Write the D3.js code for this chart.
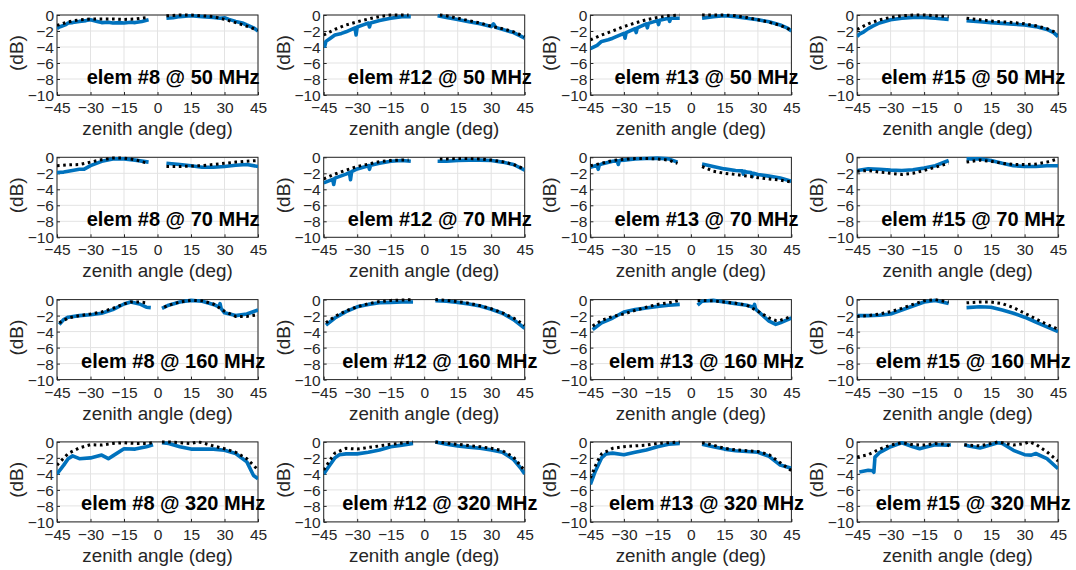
<!DOCTYPE html>
<html><head><meta charset="utf-8">
<script src="https://cdn.jsdelivr.net/npm/d3@7"></script>
<style>
html,body{margin:0;padding:0;background:#fff;}
svg{display:block;font-family:"Liberation Sans",Arial,Helvetica,sans-serif;}
</style></head><body>
<svg id="c" width="1076" height="570"></svg>
<script>
// ---- labels ----
const elements = ["#8", "#12", "#13", "#15"];
const freqs = [50, 70, 160, 320];
const xTicks = [-45, -30, -15, 0, 15, 30, 45];
const yTicks = [0, -2, -4, -6, -8, -10];
const xLabel = "zenith angle (deg)";
const yLabel = "(dB)";

// ---- data: [angle (deg), normalized gain (dB)], null = gap ----
// row 1: 50 MHz
const m8_50 = [[-45,-1.7],[-44,-1.5],[-43,-1.4],[-41,-1.2],[-40,-1.0],[-38,-0.95],[-35,-0.8],[-32,-0.7],[-30,-0.6],[-27,-0.8],[-25,-0.95],[-22,-0.9],[-20,-1.0],[-17,-0.95],[-15,-1.0],[-12,-0.9],[-10,-0.95],[-7,-0.8],[-4,-0.6],null,[4,-0.4],[7,-0.35],[10,-0.2],[15,-0.1],[20,-0.2],[25,-0.3],[28,-0.4],[30,-0.35],[32,-0.55],[35,-0.8],[38,-1.0],[40,-1.25],[43,-1.6],[45,-2.0]];
const s8_50 = [[-45,-1.3],[-40,-0.85],[-35,-0.6],[-30,-0.5],[-25,-0.5],[-20,-0.5],[-15,-0.55],[-10,-0.5],[-4,-0.3],null,[4,-0.1],[10,0],[15,0],[20,-0.1],[25,-0.2],[30,-0.55],[35,-0.95],[40,-1.4],[45,-1.9]];
const m12_50 = [[-45,-3.3],[-44.5,-3.9],[-44,-3.3],[-42,-2.9],[-40,-2.5],[-37,-2.3],[-35,-2.1],[-31,-1.6],[-30.5,-2.5],[-30,-1.5],[-27,-1.2],[-25,-1.0],[-24.5,-1.5],[-24,-1.0],[-20,-0.7],[-15,-0.4],[-10,-0.2],[-6,-0.2],null,[6,-0.1],[10,-0.3],[15,-0.55],[20,-0.85],[25,-1.1],[30,-1.45],[31,-1.1],[32,-1.55],[35,-1.8],[40,-2.2],[43,-2.6],[45,-2.9]];
const s12_50 = [[-45,-2.5],[-40,-1.8],[-35,-1.25],[-30,-0.85],[-25,-0.5],[-20,-0.2],[-15,0],[-10,0],[-7,0],null,[7,0],[10,-0.1],[15,-0.4],[20,-0.7],[25,-1.0],[30,-1.4],[35,-1.7],[40,-2.1],[45,-2.7]];
const m13_50 = [[-45,-4.2],[-42,-3.8],[-40,-3.3],[-37,-3.1],[-35,-2.9],[-30,-2.3],[-29.5,-2.9],[-29,-2.2],[-25,-1.7],[-24.5,-2.2],[-24,-1.6],[-20,-1.1],[-19.5,-1.6],[-19,-1.05],[-15,-0.7],[-14.5,-1.2],[-14,-0.65],[-10,-0.4],[-9.5,-0.8],[-9,-0.4],[-5,-0.4],null,[5,-0.4],[10,-0.2],[15,-0.1],[20,-0.2],[25,-0.4],[30,-0.6],[35,-0.85],[40,-1.25],[43,-1.6],[45,-2.0]];
const s13_50 = [[-45,-3.1],[-40,-2.5],[-35,-2.0],[-30,-1.45],[-25,-1.0],[-20,-0.6],[-15,-0.3],[-10,-0.1],[-5,0],null,[5,0],[10,0],[15,0],[20,-0.1],[25,-0.3],[30,-0.6],[35,-0.9],[40,-1.3],[45,-1.9]];
const m15_50 = [[-45,-2.7],[-44,-2.4],[-42,-2.1],[-40,-1.7],[-38,-1.4],[-35,-1.0],[-30,-0.6],[-25,-0.4],[-20,-0.3],[-15,-0.3],[-10,-0.4],[-4,-0.55],null,[4,-0.7],[10,-0.85],[15,-0.95],[20,-1.05],[25,-1.15],[30,-1.25],[35,-1.45],[40,-1.8],[43,-2.2],[45,-2.7]];
const s15_50 = [[-45,-1.8],[-40,-1.1],[-35,-0.6],[-30,-0.3],[-25,-0.1],[-20,0],[-15,0],[-10,-0.1],[-4,-0.2],null,[4,-0.4],[10,-0.6],[15,-0.75],[20,-0.85],[25,-0.95],[30,-1.1],[35,-1.35],[40,-1.7],[45,-2.3]];
// row 2: 70 MHz
const m8_70 = [[-45,-1.9],[-42,-1.85],[-40,-1.75],[-35,-1.5],[-33,-1.5],[-30,-1.05],[-25,-0.5],[-20,-0.2],[-15,-0.2],[-10,-0.35],[-4,-0.6],null,[4,-0.75],[10,-0.9],[15,-1.05],[20,-1.25],[25,-1.25],[30,-1.15],[35,-1.0],[40,-0.9],[45,-1.15]];
const s8_70 = [[-45,-1.05],[-40,-0.95],[-35,-0.9],[-30,-0.6],[-25,-0.3],[-20,-0.1],[-15,-0.1],[-10,-0.3],[-5,-0.7],null,[4,-1.15],[10,-1.15],[15,-1.1],[20,-1.05],[25,-0.9],[30,-0.75],[35,-0.6],[40,-0.5],[45,-0.4]];
const m12_70 = [[-45,-3.2],[-41,-2.75],[-40.5,-3.4],[-40,-2.6],[-35,-2.1],[-33.5,-1.9],[-33,-2.8],[-32.5,-1.8],[-30,-1.45],[-25,-1.05],[-24.5,-1.5],[-24,-1.0],[-20,-0.75],[-15,-0.5],[-10,-0.4],[-6,-0.5],null,[6,-0.5],[10,-0.5],[15,-0.4],[20,-0.35],[25,-0.35],[30,-0.4],[35,-0.6],[40,-0.9],[45,-1.6]];
const s12_70 = [[-45,-2.7],[-40,-2.1],[-35,-1.6],[-30,-1.15],[-25,-0.85],[-20,-0.55],[-15,-0.4],[-10,-0.35],[-7,-0.35],null,[7,-0.2],[10,-0.2],[15,-0.15],[20,-0.15],[25,-0.2],[30,-0.35],[35,-0.55],[40,-0.9],[45,-1.45]];
const m13_70 = [[-45,-1.25],[-42,-1.0],[-41.5,-1.5],[-41,-0.95],[-40,-0.85],[-35,-0.5],[-33,-0.45],[-32.5,-0.9],[-32,-0.4],[-30,-0.35],[-25,-0.2],[-20,-0.15],[-15,-0.1],[-10,-0.2],[-6,-0.6],null,[5,-0.85],[10,-1.15],[15,-1.45],[20,-1.65],[23,-1.7],[23.5,-2.1],[24,-1.75],[25,-1.85],[27,-1.9],[27.5,-2.4],[28,-2.0],[30,-2.15],[35,-2.35],[40,-2.6],[45,-3.0]];
const s13_70 = [[-45,-1.05],[-40,-0.75],[-35,-0.4],[-30,-0.25],[-25,-0.15],[-20,-0.15],[-15,-0.2],[-10,-0.35],[-6,-0.75],null,[5,-1.15],[10,-1.75],[15,-2.0],[20,-2.15],[25,-2.35],[30,-2.55],[35,-2.7],[40,-2.85],[45,-3.1]];
const m15_70 = [[-45,-1.65],[-40,-1.45],[-35,-1.5],[-30,-1.6],[-25,-1.65],[-20,-1.55],[-15,-1.35],[-10,-1.05],[-4,-0.4],null,[4,-0.2],[10,-0.2],[15,-0.4],[20,-0.75],[25,-1.05],[30,-1.15],[35,-1.15],[40,-1.05],[45,-1.05]];
const s15_70 = [[-45,-1.75],[-40,-1.65],[-35,-1.85],[-30,-2.0],[-25,-2.15],[-20,-2.0],[-15,-1.65],[-10,-1.25],[-4,-0.75],null,[4,-0.6],[10,-0.35],[15,-0.5],[20,-0.75],[25,-0.9],[30,-0.9],[35,-0.85],[40,-0.6],[45,-0.2]];
// row 3: 160 MHz
const m8_160 = [[-44,-3.1],[-42,-2.5],[-40,-2.2],[-35,-2.0],[-30,-1.9],[-25,-1.7],[-20,-1.25],[-15,-0.55],[-12,-0.3],[-8,-0.55],[-5,-0.95],[-3,-1.0],null,[2,-1.1],[5,-0.7],[10,-0.3],[15,-0.1],[20,-0.2],[25,-0.6],[27.5,-0.9],[28,-0.5],[28.5,-1.1],[30,-1.65],[35,-2.0],[40,-1.8],[45,-1.3]];
const s8_160 = [[-44,-2.9],[-40,-2.3],[-35,-2.0],[-30,-1.8],[-25,-1.55],[-20,-1.1],[-15,-0.55],[-12,-0.3],[-8,-0.3],[-5,-0.4],null,[3,-0.95],[5,-0.7],[10,-0.3],[15,-0.1],[20,-0.15],[25,-0.55],[30,-1.45],[35,-2.1],[40,-2.1],[45,-1.9]];
const m12_160 = [[-44,-3.2],[-40,-2.3],[-35,-1.5],[-30,-0.9],[-25,-0.6],[-20,-0.4],[-15,-0.35],[-10,-0.3],[-5,-0.3],null,[5,-0.15],[10,-0.2],[15,-0.35],[20,-0.55],[25,-0.8],[30,-1.2],[35,-1.7],[40,-2.5],[45,-3.6]];
const s12_160 = [[-44,-2.9],[-40,-2.1],[-35,-1.4],[-30,-0.9],[-25,-0.5],[-20,-0.25],[-15,-0.1],[-10,-0.05],[-5,0],null,[5,0],[10,-0.1],[15,-0.25],[20,-0.45],[25,-0.75],[30,-1.15],[35,-1.65],[40,-2.3],[45,-3.2]];
const m13_160 = [[-44,-3.75],[-40,-2.9],[-35,-2.3],[-30,-1.55],[-25,-1.25],[-20,-1.05],[-15,-0.85],[-10,-0.7],[-5,-0.6],null,[3,-0.7],[5,-0.2],[10,-0.1],[15,-0.3],[20,-0.5],[25,-0.7],[28,-0.95],[28.5,-0.6],[29,-1.2],[30,-1.45],[35,-2.7],[38,-3.1],[40,-2.9],[45,-2.3]];
const s13_160 = [[-44,-3.3],[-40,-2.6],[-35,-2.1],[-30,-1.8],[-25,-1.35],[-20,-0.95],[-15,-0.6],[-10,-0.4],[-5,-0.1],null,[3,-0.1],[5,-0.1],[10,-0.15],[15,-0.3],[20,-0.45],[25,-0.7],[30,-1.45],[35,-2.3],[38,-2.6],[40,-2.6],[45,-2.1]];
const m15_160 = [[-45,-2.0],[-40,-2.0],[-35,-1.95],[-30,-1.8],[-25,-1.3],[-20,-0.8],[-15,-0.3],[-10,-0.1],[-4,-0.5],null,[4,-1.0],[10,-0.9],[15,-0.95],[20,-1.3],[25,-1.7],[30,-2.2],[35,-2.8],[40,-3.4],[45,-4.0]];
const s15_160 = [[-45,-2.1],[-40,-2.0],[-35,-1.8],[-30,-1.5],[-25,-1.1],[-20,-0.6],[-15,-0.15],[-10,0],[-4,-0.3],null,[4,-0.4],[10,-0.3],[15,-0.3],[20,-0.5],[25,-1.0],[30,-1.7],[35,-2.4],[40,-3.1],[45,-3.7]];
// row 4: 320 MHz
const m8_320 = [[-45,-4.0],[-42,-2.9],[-40,-2.1],[-38,-1.75],[-35,-2.1],[-30,-2.0],[-25,-1.65],[-22,-2.1],[-20,-1.75],[-15,-0.85],[-10,-0.9],[-5,-0.6],[-2,-0.35],null,[2,-0.1],[5,-0.2],[10,-0.6],[15,-0.9],[20,-0.9],[25,-0.9],[30,-1.05],[35,-1.45],[40,-2.5],[43,-4.2],[45,-4.6]];
const s8_320 = [[-45,-2.9],[-40,-1.45],[-35,-0.75],[-30,-0.35],[-25,-0.4],[-20,-0.2],[-15,-0.1],[-10,-0.2],[-5,-0.2],[-2,-0.1],null,[2,0],[5,0],[10,-0.1],[15,-0.2],[18,0],[20,-0.1],[25,-0.5],[30,-0.85],[35,-1.3],[40,-2.1],[45,-3.5]];
const m12_320 = [[-45,-4.0],[-42,-2.8],[-40,-2.0],[-38,-1.6],[-35,-1.5],[-30,-1.5],[-25,-1.3],[-20,-1.0],[-15,-0.6],[-10,-0.4],[-5,-0.2],null,[5,0],[10,-0.3],[15,-0.5],[20,-0.65],[25,-0.8],[30,-1.0],[35,-1.3],[40,-2.2],[43,-3.2],[45,-4.0]];
const s12_320 = [[-45,-3.5],[-42,-2.2],[-40,-1.4],[-35,-0.8],[-30,-0.9],[-25,-0.7],[-20,-0.5],[-15,-0.3],[-10,-0.15],[-5,0],null,[5,0],[10,-0.15],[15,-0.3],[20,-0.45],[25,-0.6],[30,-0.8],[35,-1.1],[40,-1.9],[45,-3.6]];
const m13_320 = [[-45,-5.3],[-43,-3.8],[-40,-2.0],[-38,-1.5],[-35,-1.4],[-30,-1.6],[-25,-1.3],[-20,-1.0],[-15,-0.6],[-10,-0.3],[-5,-0.2],null,[5,-0.3],[10,-0.6],[15,-0.9],[20,-1.1],[25,-1.2],[30,-1.3],[35,-1.8],[40,-2.9],[45,-3.3]];
const s13_320 = [[-45,-4.5],[-42,-2.5],[-40,-1.5],[-35,-0.8],[-30,-0.6],[-25,-0.5],[-20,-0.4],[-15,-0.2],[-10,-0.1],[-5,0],null,[5,-0.1],[10,-0.4],[15,-0.8],[20,-1.0],[25,-1.1],[30,-1.2],[35,-1.6],[40,-2.6],[45,-3.6]];
const m15_320 = [[-44,-3.75],[-40,-3.55],[-38,-3.6],[-37.5,-3.8],[-37,-1.9],[-35,-1.35],[-30,-0.6],[-25,-0.1],[-20,-0.6],[-17,-0.85],[-15,-0.7],[-10,-0.35],[-5,-0.4],[-3,-0.35],null,[3,-0.35],[5,-0.5],[10,-0.75],[15,-0.35],[18,-0.1],[20,-0.2],[25,-1.05],[30,-1.6],[33,-1.65],[35,-1.45],[40,-2.1],[45,-3.35]];
const s15_320 = [[-45,-1.9],[-40,-1.6],[-35,-0.9],[-30,-0.4],[-25,-0.1],[-20,-0.35],[-15,-0.4],[-10,-0.2],[-5,-0.3],[-3,-0.6],null,[3,-0.35],[5,-0.4],[10,-0.5],[15,-0.2],[18,0],[20,-0.1],[25,-0.4],[30,-0.2],[32,0],[35,-0.3],[40,-1.25],[45,-2.4]];

const measured = [
  [m8_50, m12_50, m13_50, m15_50],
  [m8_70, m12_70, m13_70, m15_70],
  [m8_160, m12_160, m13_160, m15_160],
  [m8_320, m12_320, m13_320, m15_320]
];
const simulated = [
  [s8_50, s12_50, s13_50, s15_50],
  [s8_70, s12_70, s13_70, s15_70],
  [s8_160, s12_160, s13_160, s15_160],
  [s8_320, s12_320, s13_320, s15_320]
];

// ---- layout ----
const W = 201, H = 80;
const colX = c => 57 + c * 266.7;
const rowY = r => 15 + r * 142.3;
const axisColor = "#262626";
const gridColor = "#e3e3e3";
const blue = "#0072BD";

const svg = d3.select("#c");

for (let r = 0; r < 4; r++) {
  for (let c = 0; c < 4; c++) {
    const g = svg.append("g").attr("transform", `translate(${colX(c)},${rowY(r)})`);
    const x = d3.scaleLinear().domain([-45, 45]).range([0, W]);
    const y = d3.scaleLinear().domain([-10, 0]).range([H, 0]);
    const clipId = `clip${r}${c}`;
    g.append("clipPath").attr("id", clipId).append("rect").attr("x", 0).attr("y", -2).attr("width", W).attr("height", H + 2);

    // grid
    g.append("g").selectAll("line").data(xTicks).join("line")
      .attr("x1", d => x(d)).attr("x2", d => x(d)).attr("y1", 0).attr("y2", H)
      .attr("stroke", gridColor).attr("stroke-width", 1);
    g.append("g").selectAll("line").data(yTicks).join("line")
      .attr("y1", d => y(d)).attr("y2", d => y(d)).attr("x1", 0).attr("x2", W)
      .attr("stroke", gridColor).attr("stroke-width", 1);

    // axes
    const xa = g.append("g").attr("transform", `translate(0,${H})`)
      .call(d3.axisBottom(x).tickValues(xTicks).tickSize(-3).tickPadding(6).tickFormat(d3.format("d")));
    const ya = g.append("g")
      .call(d3.axisLeft(y).tickValues(yTicks).tickSize(-3).tickPadding(3).tickFormat(d3.format("d")));
    [xa, ya].forEach(a => {
      a.select(".domain").remove();
      a.selectAll("line").attr("stroke", axisColor);
      a.selectAll("text").attr("fill", axisColor).style("font-size", "15.5px")
        .style("font-family", "'Liberation Sans',Arial,sans-serif");
    });
    xa.selectAll("text").attr("dy", "0.71em").attr("y", 7);
    ya.selectAll("text").attr("dy", "0.36em");

    // box
    g.append("rect").attr("x", 0).attr("y", 0).attr("width", W).attr("height", H)
      .attr("fill", "none").attr("stroke", axisColor).attr("stroke-width", 1);

    const line = d3.line().defined(d => d !== null).x(d => x(d[0])).y(d => y(d[1]));
    g.append("path").datum(measured[r][c]).attr("d", line)
      .attr("fill", "none").attr("stroke", blue).attr("stroke-width", 3.6)
      .attr("stroke-linejoin", "round").attr("clip-path", `url(#${clipId})`);
    g.append("path").datum(simulated[r][c]).attr("d", line)
      .attr("fill", "none").attr("stroke", "#000").attr("stroke-width", 3)
      .attr("stroke-dasharray", "2.6,3.6").attr("clip-path", `url(#${clipId})`);

    // annotation
    g.append("text").attr("x", x(7)).attr("y", y(-7.7))
      .attr("text-anchor", "middle").attr("dominant-baseline", "central")
      .style("font-size", "20px").style("font-weight", "bold").attr("fill", "#000")
      .text(`elem ${elements[c]} @ ${freqs[r]} MHz`);

    // labels
    g.append("text").attr("x", W / 2).attr("y", H + 40)
      .attr("text-anchor", "middle").attr("fill", axisColor).style("font-size", "18.8px")
      .text(xLabel);
    g.append("text").attr("transform", `translate(-34,${H / 2 - 2}) rotate(-90)`)
      .attr("text-anchor", "middle").attr("fill", axisColor).style("font-size", "19px")
      .text(yLabel);
  }
}
</script></body></html>
